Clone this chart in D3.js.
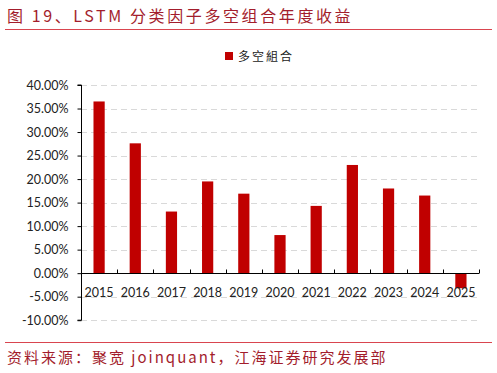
<!DOCTYPE html>
<html><head><meta charset="utf-8">
<script src="https://cdn.jsdelivr.net/npm/d3@7"></script>
<style>body{margin:0;background:#fff}svg{display:block}</style>
</head><body>
<script>
const categories = ["2015","2016","2017","2018","2019","2020","2021","2022","2023","2024","2025"];
const values = [36.5, 27.6, 13.1, 19.5, 16.9, 8.1, 14.3, 23.0, 18.0, 16.5, -3.2];
const seriesName = "多空組合";
const yTicks = [40,35,30,25,20,15,10,5,0,-5,-10];
const title = "图 19、LSTM 分类因子多空组合年度收益";
const source = "资料来源：聚宽 joinquant，江海证券研究发展部";

const W = 497, H = 373;
const svg = d3.select("body").append("svg").attr("width", W).attr("height", H);
const red = "#c00000", dark = "#a31d2c";
const cjk = "'Noto Sans CJK SC', sans-serif";
const latin = "Lato, 'Open Sans', sans-serif";

svg.append("text").attr("x", 7).attr("y", 22).attr("fill", dark)
  .style("font-family", cjk).style("font-size", "16px").style("letter-spacing", "2.6px").text(title);
svg.append("line").attr("x1", 5).attr("x2", 492).attr("y1", 29.5).attr("y2", 29.5)
  .attr("stroke", "#d9454f").attr("stroke-width", 1.2);
svg.append("line").attr("x1", 5).attr("x2", 492).attr("y1", 342.5).attr("y2", 342.5)
  .attr("stroke", "#d9454f").attr("stroke-width", 1.2);
svg.append("text").attr("x", 7).attr("y", 363).attr("fill", dark)
  .style("font-family", cjk).style("font-size", "15px").style("letter-spacing", "2px").text(source);

const x0 = 81, x1 = 479;
const x = d3.scaleBand().domain(categories).range([x0, x1]).paddingInner(0.69).paddingOuter(0.345);
const y = d3.scaleLinear().domain([-10, 40]).range([320.2, 85]);

// gridlines
svg.append("g").selectAll("line").data(yTicks.filter(d => d !== 0)).join("line")
  .attr("x1", x0).attr("x2", x1)
  .attr("y1", d => Math.round(y(d)) + 0.5).attr("y2", d => Math.round(y(d)) + 0.5)
  .attr("stroke", "#d9d9d9").attr("stroke-width", 1).attr("stroke-dasharray", "6,4");

// bars
svg.append("g").selectAll("rect").data(values).join("rect")
  .attr("x", (d, i) => x(categories[i]))
  .attr("width", x.bandwidth())
  .attr("y", d => y(Math.max(0, d)))
  .attr("height", d => Math.abs(y(d) - y(0)))
  .attr("fill", red);

// y axis
const yAxis = d3.axisLeft(y).tickValues(yTicks).tickSize(4).tickFormat(d => d.toFixed(2) + "%");
const gy = svg.append("g").attr("transform", `translate(${x0 + 0.5},0)`).call(yAxis);
gy.select(".domain").attr("stroke", "#000").attr("d", `M-4,${y(40)}H0V${y(-10)}H-4`);
gy.selectAll(".tick line").attr("stroke", "#000");
gy.selectAll(".tick text").attr("x", -13).attr("fill", "#222")
  .style("font-family", latin).style("font-size", "12.5px");

// x axis at zero
const zy = Math.round(y(0)) + 0.5;
const xg = svg.append("g");
xg.append("line").attr("x1", x0).attr("x2", x1).attr("y1", zy).attr("y2", zy)
  .attr("stroke", "#000").attr("stroke-width", 1);
const step = (x1 - x0) / categories.length;
xg.selectAll("line.t").data(d3.range(categories.length + 1)).join("line").attr("class", "t")
  .attr("x1", i => Math.round(x0 + i * step) + 0.5).attr("x2", i => Math.round(x0 + i * step) + 0.5)
  .attr("y1", zy - 4).attr("y2", zy).attr("stroke", "#000");
xg.selectAll("text").data(categories).join("text")
  .attr("x", d => x(d) + x.bandwidth() / 2).attr("y", 297)
  .attr("text-anchor", "middle").attr("fill", "#222")
  .style("font-family", latin).style("font-size", "12.5px").text(d => d);

// legend
svg.append("rect").attr("x", 225).attr("y", 52).attr("width", 8).attr("height", 8).attr("fill", red);
svg.append("text").attr("x", 238).attr("y", 60.5).attr("fill", "#222")
  .style("font-family", cjk).style("font-size", "12px").style("letter-spacing", "2px").text(seriesName);
</script>
</body></html>
